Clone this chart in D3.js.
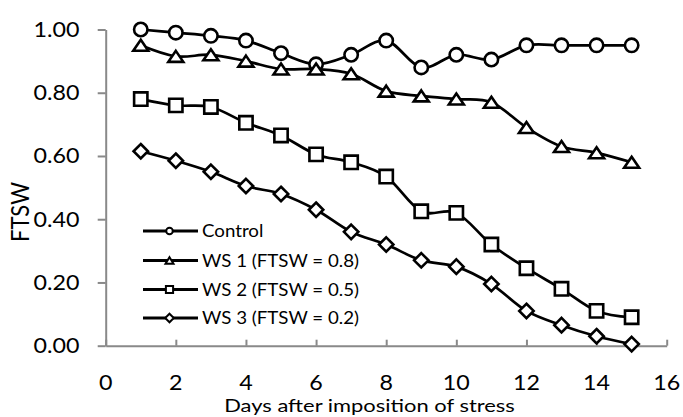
<!DOCTYPE html>
<html>
<head>
<meta charset="utf-8">
<script src="https://cdn.jsdelivr.net/npm/d3@7"></script>
<style>
  html, body { margin: 0; padding: 0; background: #fff; }
  text { font-family: Lato, "Open Sans", sans-serif; fill: #000; }
</style>
</head>
<body>
<svg id="chart" width="683" height="417"></svg>
<script>
// ---- data ----
const days = [1, 2, 3, 4, 5, 6, 7, 8, 9, 10, 11, 12, 13, 14, 15];
const control = [1.00, 0.99, 0.98, 0.965, 0.925, 0.89, 0.92, 0.965, 0.88, 0.92, 0.905, 0.95, 0.95, 0.95, 0.95];
const ws1 = [0.95, 0.915, 0.92, 0.90, 0.875, 0.875, 0.86, 0.805, 0.79, 0.78, 0.77, 0.69, 0.63, 0.61, 0.58];
const ws2 = [0.78, 0.76, 0.755, 0.705, 0.665, 0.605, 0.58, 0.535, 0.425, 0.42, 0.32, 0.245, 0.18, 0.11, 0.09];
const ws3 = [0.615, 0.585, 0.55, 0.505, 0.48, 0.43, 0.36, 0.32, 0.27, 0.25, 0.195, 0.11, 0.065, 0.03, 0.005];
const seriesNames = ["Control", "WS 1 (FTSW = 0.8)", "WS 2 (FTSW = 0.5)", "WS 3 (FTSW = 0.2)"];
const xTicks = [0, 2, 4, 6, 8, 10, 12, 14, 16];
const yTicks = [0, 0.2, 0.4, 0.6, 0.8, 1.0];
const xTitle = "Days after imposition of stress";
const yTitle = "FTSW";

// ---- layout ----
const svg = d3.select("#chart");
const x = d3.scaleLinear().domain([0, 16]).range([105.7, 666.7]);
const y = d3.scaleLinear().domain([0, 1]).range([345.7, 29.5]);
const axisColor = "#898989";

// horizontal stretch so text widths match the reference
function stretchFor(str, size, targetWidth) {
  const t = svg.append("text").style("font-size", size + "px").text(str);
  const w = t.node().getComputedTextLength();
  t.remove();
  return w > 0 ? targetWidth / w : 1;
}
const tickSize = 21, legSize = 17.2, titleSize = 17.5;
const tickSX = stretchFor("0.80", tickSize, 46);
const legSX = stretchFor("WS 1 (FTSW = 0.8)", legSize, 157);
const titleSX = stretchFor(xTitle, titleSize, 291);

function txt(g, px, py, str, size, anchor, sx) {
  return g.append("text")
    .attr("transform", `translate(${px},${py}) scale(${sx},1)`)
    .attr("text-anchor", anchor)
    .style("font-size", size + "px")
    .text(str);
}

// axes
const yAxis = svg.append("g").attr("transform", `translate(${x(0)},0)`)
  .call(d3.axisLeft(y).tickValues(yTicks).tickSize(8).tickSizeOuter(0).tickFormat(""));
const xAxis = svg.append("g").attr("transform", `translate(0,${y(0)})`)
  .call(d3.axisBottom(x).tickValues(xTicks).tickSize(-6).tickSizeOuter(0).tickFormat(""));
[xAxis, yAxis].forEach(a => {
  a.selectAll("path.domain").attr("stroke", axisColor).attr("stroke-width", 2);
  a.selectAll(".tick line").attr("stroke", axisColor).attr("stroke-width", 2);
});

// tick labels
const labels = svg.append("g");
yTicks.forEach(v => txt(labels, 79.5, y(v) + 7.5, d3.format(".2f")(v), tickSize, "end", tickSX));
xTicks.forEach(v => txt(labels, x(v), 390, String(v), tickSize, "middle", tickSX));

// titles
txt(labels, 369.5, 412, xTitle, titleSize, "middle", titleSX);
svg.append("text")
  .attr("transform", "translate(29,212) rotate(-90) scale(1,1.12)")
  .attr("text-anchor", "middle")
  .style("font-size", "22px")
  .text(yTitle);

// ---- marker shapes ----
function circlePath(r) { return d3.symbol().type(d3.symbolCircle).size(Math.PI * r * r)(); }
function trianglePath(w, h) { return `M0,${-h / 2}L${w / 2},${h / 2}L${-w / 2},${h / 2}Z`; }
function squarePath(s) { return `M${-s / 2},${-s / 2}H${s / 2}V${s / 2}H${-s / 2}Z`; }
function diamondPath(r) { return `M0,${-r}L${r},0L0,${r}L${-r},0Z`; }

const markers = [
  { big: circlePath(6.7), small: circlePath(3.3) },
  { big: trianglePath(15, 11), small: trianglePath(8, 6.5) },
  { big: squarePath(13.3), small: squarePath(7.2) },
  { big: diamondPath(7.2), small: diamondPath(4.3) }
];
const allSeries = [control, ws1, ws2, ws3];

const line = d3.line()
  .x((d, i) => x(days[i]))
  .y(d => y(d))
  .curve(d3.curveCardinal);

const plot = svg.append("g");
allSeries.forEach(vals => {
  plot.append("path")
    .attr("d", line(vals))
    .attr("fill", "none")
    .attr("stroke", "#000")
    .attr("stroke-width", 2.7);
});
allSeries.forEach((vals, si) => {
  plot.selectAll(null).data(vals).enter().append("path")
    .attr("d", markers[si].big)
    .attr("transform", (d, i) => `translate(${x(days[i])},${y(d)})`)
    .attr("fill", "#fff")
    .attr("stroke", "#000")
    .attr("stroke-width", 2.6);
});

// ---- legend ----
const legend = svg.append("g");
const legY = [231, 260.5, 289.5, 318];
seriesNames.forEach((name, si) => {
  const ly = legY[si];
  legend.append("line")
    .attr("x1", 143).attr("x2", 198).attr("y1", ly).attr("y2", ly)
    .attr("stroke", "#000").attr("stroke-width", 3);
  legend.append("path")
    .attr("d", markers[si].small)
    .attr("transform", `translate(169.5,${ly})`)
    .attr("fill", "#fff").attr("stroke", "#000").attr("stroke-width", 2);
  txt(legend, 202, ly + 6.2, name, legSize, "start", legSX);
});
</script>
</body>
</html>
